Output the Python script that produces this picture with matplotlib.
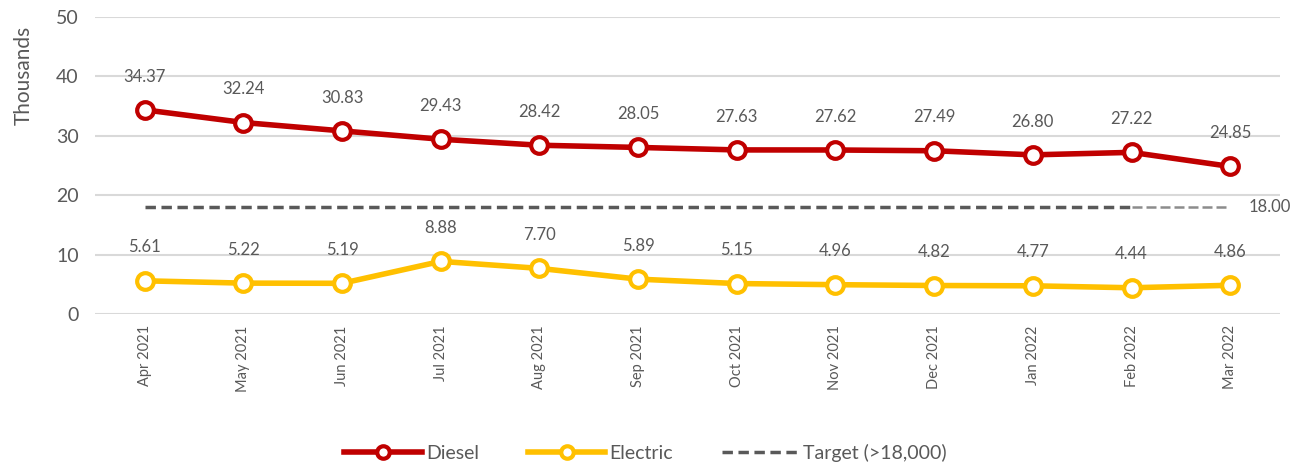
import numpy as np
import matplotlib.pyplot as plt

# Datos.
meses = ['Apr 2021', 'May 2021', 'Jun 2021', 'Jul 2021', 'Aug 2021', 'Sep 2021',
         'Oct 2021', 'Nov 2021', 'Dec 2021', 'Jan 2022', 'Feb 2022', 'Mar 2022']
diesel = [34.37, 32.24, 30.83, 29.43, 28.42, 28.05, 27.63, 27.62, 27.49, 26.80, 27.22, 24.85]
electrico = [5.61, 5.22, 5.19, 8.88, 7.70, 5.89, 5.15, 4.96, 4.82, 4.77, 4.44, 4.86]
objetivo = [18.0] * 12

plt.rcParams['font.family'] = ['Lato', 'DejaVu Sans']
gris = '#595959'

fig = plt.figure(figsize=(13.07, 4.71), dpi=100)
ax = fig.add_axes([0.073, 0.333, 0.906, 0.631])

x = np.arange(len(meses))

# Línea objetivo (el último tramo va más claro, como en el original).
ax.plot(x[:-1], objetivo[:-1], color='#595959', lw=2.5, ls=(0, (3, 1.6)),
        label='Target (>18,000)', zorder=2)
ax.plot(x[-2:], objetivo[-2:], color='#8C8C8C', lw=1.8, ls=(0, (4, 1.6)), zorder=2)
ax.plot(x, diesel, color='#C00000', lw=4, marker='o', ms=12, mfc='white', mew=3,
        label='Diesel', zorder=3)
ax.plot(x, electrico, color='#FFC000', lw=4, marker='o', ms=12, mfc='white', mew=3,
        label='Electric', zorder=3)

# Etiquetas de datos.
for xi, v in zip(x, diesel):
    ax.annotate(f'{v:.2f}', (xi, v), xytext=(0, 24), textcoords='offset points',
                ha='center', va='center', fontsize=12, color=gris)
for xi, v in zip(x, electrico):
    ax.annotate(f'{v:.2f}', (xi, v), xytext=(0, 24), textcoords='offset points',
                ha='center', va='center', fontsize=12, color=gris)
ax.annotate(f'{objetivo[-1]:.2f}', (x[-1], objetivo[-1]), xytext=(13, 0),
            textcoords='offset points', ha='left', va='center', fontsize=12, color=gris)

# Ejes.
ax.set_xlim(-0.5, len(meses) - 0.5)
ax.set_ylim(0, 50)
ax.set_yticks(range(0, 51, 10))
ax.set_xticks(x)
ax.set_xticklabels(meses, rotation=90, fontsize=10.5, color=gris)
ax.tick_params(axis='y', labelsize=14, colors=gris, length=0, pad=12)
ax.tick_params(axis='x', length=0, pad=8)
fig.text(0.018, 1 - 75 / 471, 'Thousands', rotation=90, ha='center', va='center',
         fontsize=15, color=gris)
ax.grid(axis='y', color='#D9D9D9', lw=1.5)
ax.set_axisbelow(True)
for s in ax.spines.values():
    s.set_visible(False)

# Leyenda.
h, l = ax.get_legend_handles_labels()
fig.legend([h[1], h[2], h[0]], [l[1], l[2], l[0]], loc='center', bbox_to_anchor=(0.494, 0.038),
           ncol=3, frameon=False, fontsize=14, labelcolor=gris, handlelength=4,
           handletextpad=0.2, columnspacing=2.5, markerscale=0.75)

fig.savefig('out.png', dpi=100)
